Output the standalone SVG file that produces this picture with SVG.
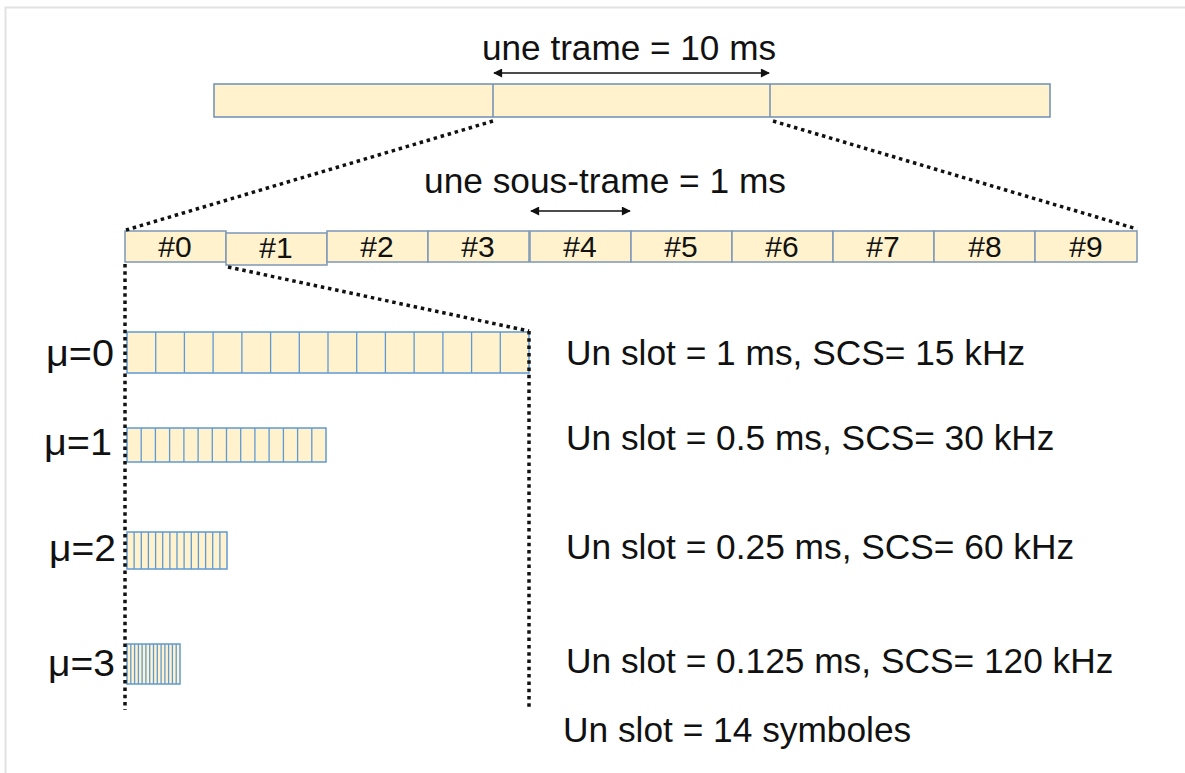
<svg xmlns="http://www.w3.org/2000/svg" width="1185" height="773" viewBox="0 0 1185 773">
  <style>
    .lbl { font-family: "Liberation Sans", Arial, sans-serif; fill: #111; }
    .big { font-size: 35.3px; }
    .mu { font-size: 36px; }
    .num { font-size: 30px; text-anchor: middle; }
    .frame { fill: #FFF2CC; stroke: #6E8FB5; stroke-width: 1.5; }
    .sub { fill: #FFF2CC; stroke: #7C98B8; stroke-width: 1.5; }
    .slot { fill: #FFF2CC; stroke: #5F9AD3; stroke-width: 1.5; }
    .cells { fill: none; stroke: #5F9AD3; stroke-width: 1.3; }
    .dots { fill: none; stroke: #111; stroke-width: 3.5; stroke-dasharray: 3.5 3.8; }
    .arr { fill: none; stroke: #111; stroke-width: 1.6; marker-start: url(#head); marker-end: url(#head); }
  </style>
  <defs>
    <marker id="head" viewBox="0 0 10 10" refX="9" refY="5" markerWidth="10" markerHeight="9" orient="auto-start-reverse" markerUnits="userSpaceOnUse">
      <path d="M0,0 L10,5 L0,10 z" fill="#111"/>
    </marker>
  </defs>

  <rect width="1185" height="773" fill="#fff"/>
  <!-- page edge -->
  <rect x="5.5" y="7.5" width="1200" height="800" fill="none" stroke="#e2e2e2" stroke-width="2"/>

  <!-- radio frame -->
  <g id="trame">
    <rect class="frame" x="214" y="84" width="836" height="33"/>
    <line x1="493" y1="84" x2="493" y2="117" stroke="#6E8FB5" stroke-width="1.5"/>
    <line x1="770" y1="84" x2="770" y2="117" stroke="#6E8FB5" stroke-width="1.5"/>
    <text class="lbl big" x="482" y="60" textLength="294" lengthAdjust="spacingAndGlyphs">une trame = 10 ms</text>
  </g>

  <!-- subframes -->
  <g id="sous-trames">
    <rect class="sub" x="125" y="231" width="101" height="31"/>
    <rect class="sub" x="226" y="233" width="101" height="32"/>
    <rect class="sub" x="327" y="231" width="101" height="31"/>
    <rect class="sub" x="428" y="231" width="101" height="31"/>
    <rect class="sub" x="530" y="231" width="101" height="31"/>
    <rect class="sub" x="631" y="231" width="101" height="31"/>
    <rect class="sub" x="732" y="231" width="101" height="31"/>
    <rect class="sub" x="833" y="231" width="101" height="31"/>
    <rect class="sub" x="934" y="231" width="101" height="31"/>
    <rect class="sub" x="1035" y="231" width="102" height="31"/>
    <text class="lbl num" x="175" y="257">#0</text>
    <text class="lbl num" x="276" y="258">#1</text>
    <text class="lbl num" x="377" y="257">#2</text>
    <text class="lbl num" x="478" y="257">#3</text>
    <text class="lbl num" x="580" y="257">#4</text>
    <text class="lbl num" x="681" y="257">#5</text>
    <text class="lbl num" x="782" y="257">#6</text>
    <text class="lbl num" x="883" y="257">#7</text>
    <text class="lbl num" x="985" y="257">#8</text>
    <text class="lbl num" x="1086" y="257">#9</text>
    <text class="lbl big" x="424" y="193" textLength="362" lengthAdjust="spacingAndGlyphs">une sous-trame = 1 ms</text>
  </g>

  <!-- slots, 14 symbols each -->
  <g id="mu0">
    <text class="lbl mu" x="46" y="366" textLength="68" lengthAdjust="spacingAndGlyphs">μ=0</text>
    <rect class="slot" x="127" y="332" width="402" height="41"/>
    <path class="cells" d="M155.7,332v41M184.4,332v41M213.1,332v41M241.9,332v41M270.6,332v41M299.3,332v41M328,332v41M356.7,332v41M385.4,332v41M414.1,332v41M442.9,332v41M471.6,332v41M500.3,332v41"/>
    <text class="lbl big" x="566" y="365">Un slot = 1 ms, SCS= 15 kHz</text>
  </g>
  <g id="mu1">
    <text class="lbl mu" x="44" y="455" textLength="68" lengthAdjust="spacingAndGlyphs">μ=1</text>
    <rect class="slot" x="127" y="428" width="199" height="34"/>
    <path class="cells" d="M141.2,428v34M155.4,428v34M169.6,428v34M183.9,428v34M198.1,428v34M212.3,428v34M226.5,428v34M240.7,428v34M254.9,428v34M269.1,428v34M283.4,428v34M297.6,428v34M311.8,428v34"/>
    <text class="lbl big" x="566" y="450">Un slot = 0.5 ms, SCS= 30 kHz</text>
  </g>
  <g id="mu2">
    <text class="lbl mu" x="49" y="561" textLength="67" lengthAdjust="spacingAndGlyphs">μ=2</text>
    <rect class="slot" x="127" y="532" width="100" height="37"/>
    <path class="cells" d="M134.1,532v37M141.3,532v37M148.4,532v37M155.6,532v37M162.7,532v37M169.9,532v37M177,532v37M184.1,532v37M191.3,532v37M198.4,532v37M205.6,532v37M212.7,532v37M219.9,532v37"/>
    <text class="lbl big" x="566" y="559">Un slot = 0.25 ms, SCS= 60 kHz</text>
  </g>
  <g id="mu3">
    <text class="lbl mu" x="48" y="676" textLength="67" lengthAdjust="spacingAndGlyphs">μ=3</text>
    <rect class="slot" x="127" y="644" width="53" height="40"/>
    <path class="cells" d="M130.8,644v40M134.6,644v40M138.4,644v40M142.1,644v40M145.9,644v40M149.7,644v40M153.5,644v40M157.3,644v40M161.1,644v40M164.9,644v40M168.6,644v40M172.4,644v40M176.2,644v40"/>
    <text class="lbl big" x="566" y="673">Un slot = 0.125 ms, SCS= 120 kHz</text>
  </g>
  <g id="symboles">
    <text class="lbl big" x="563" y="742">Un slot = 14 symboles</text>
  </g>

  <!-- zoom guides and duration arrows -->
  <g id="connecteurs">
    <line class="arr" x1="494" y1="73" x2="769" y2="73"/>
    <line class="arr" x1="531" y1="211" x2="630" y2="211"/>
    <line class="dots" x1="493" y1="121" x2="126" y2="230"/>
    <line class="dots" x1="773" y1="121" x2="1137" y2="229"/>
    <line class="dots" x1="228" y1="267" x2="529" y2="331"/>
    <line class="dots" x1="125" y1="264" x2="125" y2="710"/>
    <line class="dots" x1="529" y1="331" x2="529" y2="710"/>
  </g>
</svg>
